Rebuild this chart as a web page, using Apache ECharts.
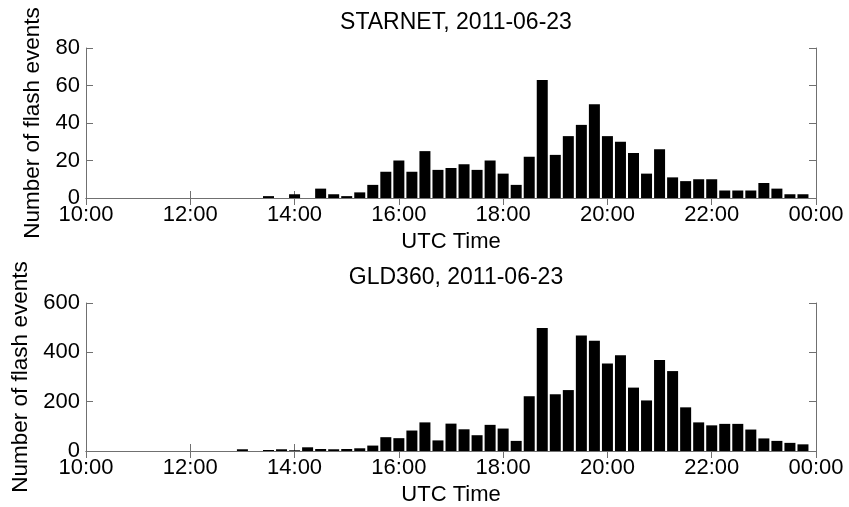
<!DOCTYPE html>
<html>
<head>
<meta charset="utf-8">
<script src="https://cdn.jsdelivr.net/npm/echarts@6/dist/echarts.min.js"></script>
<style>
  html, body { margin: 0; padding: 0; background: #fff; }
  #chart { width: 849px; height: 507px; }
</style>
</head>
<body>
<div id="chart"></div>
<script>
// 15 minute bins, 10:00 .. 23:45 UTC
const binTimes = [
  '10:00','10:15','10:30','10:45','11:00','11:15','11:30','11:45',
  '12:00','12:15','12:30','12:45','13:00','13:15','13:30','13:45',
  '14:00','14:15','14:30','14:45','15:00','15:15','15:30','15:45',
  '16:00','16:15','16:30','16:45','17:00','17:15','17:30','17:45',
  '18:00','18:15','18:30','18:45','19:00','19:15','19:30','19:45',
  '20:00','20:15','20:30','20:45','21:00','21:15','21:30','21:45',
  '22:00','22:15','22:30','22:45','23:00','23:15','23:30','23:45'
]
const starnetCounts = [
  0, 0, 0, 0, 0, 0, 0, 0,
  0, 0, 0, 0, 0, 0, 1, 0,
  2, 0, 5, 2, 1, 3, 7, 14,
  20, 14, 25, 15, 16, 18, 15, 20,
  13, 7, 22, 63, 23, 33, 39, 50,
  33, 30, 24, 13, 26, 11, 9, 10,
  10, 4, 4, 4, 8, 5, 2, 2
]
const gldCounts = [
  0, 0, 0, 0, 0, 0, 0, 0,
  0, 0, 0, 0, 7, 0, 4, 7,
  3, 15, 8, 7, 8, 11, 22, 56,
  52, 83, 116, 43, 111, 88, 64, 106,
  91, 41, 222, 499, 230, 247, 468, 447,
  355, 388, 257, 205, 369, 324, 177, 116,
  104, 110, 110, 87, 51, 41, 33, 27
]
const titles = ['STARNET, 2011-06-23', 'GLD360, 2011-06-23']
const yMax = [80, 600]
const yStep = [20, 200]

const FONT = "'Liberation Sans', Arial, sans-serif"
const lineColor = '#707070'

const toHours = (s) => {
  const p = s.split(':')
  return Number(p[0]) + Number(p[1]) / 60
}
const timeLabel = (v) => {
  const h = v % 24
  return (h < 10 ? '0' : '') + h + ':00'
}

const grids = [
  { left: 86, right: 33, top: 48, height: 150 },
  { left: 86, right: 33, top: 303, height: 150 }
]

const xAxes = []
const yAxes = []
const series = []
const allCounts = [starnetCounts, gldCounts]

for (let g = 0; g < 2; g++) {
  // bottom axis with labels
  xAxes.push({
    type: 'value', gridIndex: g, min: 10, max: 24, interval: 2,
    position: 'bottom',
    name: 'UTC Time', nameLocation: 'middle', nameGap: 33,
    nameTextStyle: { fontFamily: FONT, fontSize: 22, color: '#000' },
    axisLine: { show: true, lineStyle: { color: lineColor } },
    axisTick: { show: true, inside: true, length: 7, lineStyle: { color: lineColor } },
    axisLabel: { fontFamily: FONT, fontSize: 22, color: '#000', margin: 6, formatter: timeLabel },
    splitLine: { show: false }
  })
  // top mirror axis
  xAxes.push({
    type: 'value', gridIndex: g, min: 10, max: 24, interval: 2,
    position: 'top',
    axisLine: { show: true, lineStyle: { color: lineColor } },
    axisTick: { show: true, inside: true, length: 7, lineStyle: { color: lineColor } },
    axisLabel: { show: false },
    splitLine: { show: false }
  })
  yAxes.push({
    type: 'value', gridIndex: g, min: 0, max: yMax[g], interval: yStep[g],
    position: 'left',
    name: 'Number of flash events', nameLocation: 'middle', nameGap: 38,
    nameTextStyle: { fontFamily: FONT, fontSize: 22.5, color: '#000' },
    axisLine: { show: true, lineStyle: { color: lineColor } },
    axisTick: { show: true, inside: true, length: 7, lineStyle: { color: lineColor } },
    axisLabel: { fontFamily: FONT, fontSize: 22, color: '#000', margin: 6 },
    splitLine: { show: false }
  })
  yAxes.push({
    type: 'value', gridIndex: g, min: 0, max: yMax[g], interval: yStep[g],
    position: 'right',
    axisLine: { show: true, lineStyle: { color: lineColor } },
    axisTick: { show: true, inside: true, length: 7, lineStyle: { color: lineColor } },
    axisLabel: { show: false },
    splitLine: { show: false }
  })
  series.push({
    type: 'bar',
    xAxisIndex: g * 2,
    yAxisIndex: g * 2,
    barWidth: 11,
    itemStyle: { color: '#000' },
    silent: true,
    data: binTimes.map((t, i) => [toHours(t), allCounts[g][i]])
  })
}

const chart = echarts.init(document.getElementById('chart'))
chart.setOption({
  animation: false,
  backgroundColor: '#fff',
  title: [
    { text: titles[0], left: 451, top: 6, textAlign: 'center',
      textStyle: { fontFamily: FONT, fontSize: 23, fontWeight: 'normal', color: '#000' } },
    { text: titles[1], left: 451, top: 261, textAlign: 'center',
      textStyle: { fontFamily: FONT, fontSize: 23, fontWeight: 'normal', color: '#000' } }
  ],
  grid: grids,
  xAxis: xAxes,
  yAxis: yAxes,
  series: series
})
</script>
</body>
</html>
